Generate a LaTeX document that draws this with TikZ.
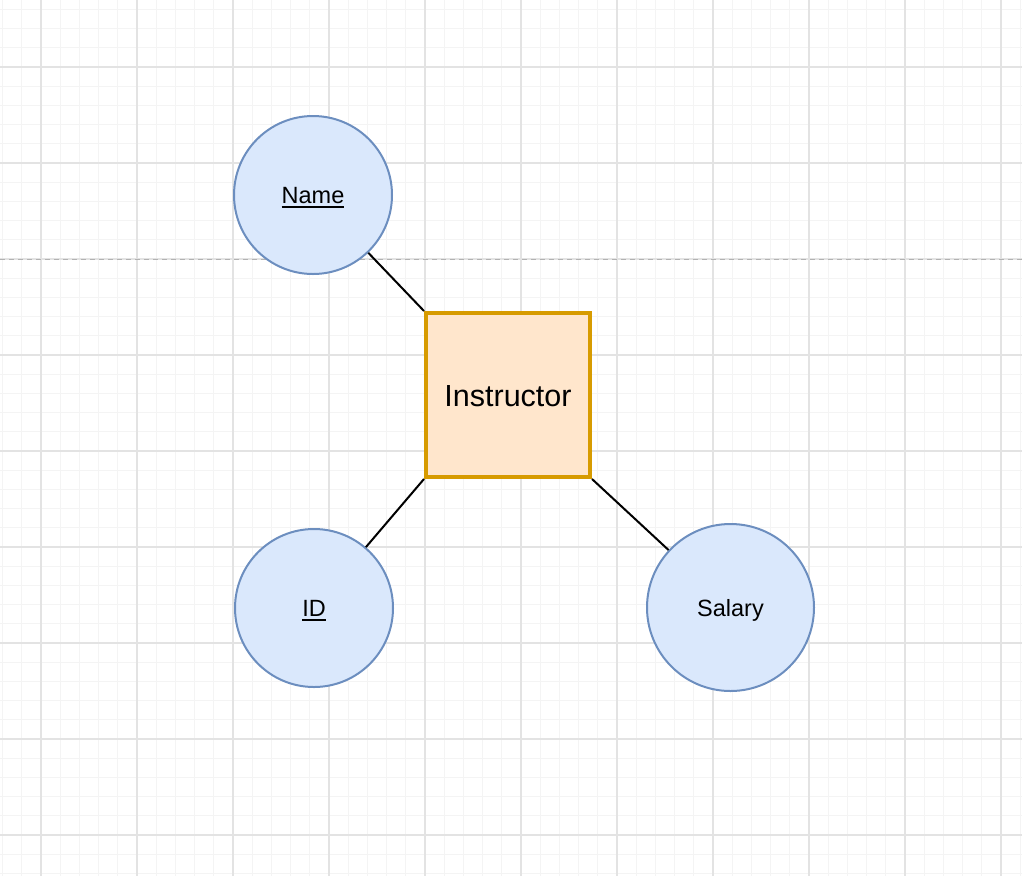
\documentclass[tikz,border=0pt]{standalone}
\usepackage{fontspec}
\setmainfont{Liberation Sans}
\newcommand{\keyattr}[1]{\setbox0\hbox{#1}\rlap{\rule[-4pt]{\wd0}{1.5pt}}\box0}
\definecolor{attrfill}{HTML}{DAE8FC}
\definecolor{attrline}{HTML}{6C8EBF}
\definecolor{entfill}{HTML}{FFE6CC}
\definecolor{entline}{HTML}{D79B00}
\definecolor{gridminor}{HTML}{F4F4F4}
\definecolor{gridmajor}{HTML}{E3E3E3}
\begin{document}
\begin{tikzpicture}[x=1pt, y=-1pt,
    attr/.style={circle, draw=attrline, fill=attrfill, line width=2pt,
        minimum size=158pt, inner sep=0pt, font=\fontsize{23.5}{23.5}\selectfont,
        text height=17pt, text depth=0pt},
    entity/.style={rectangle, draw=entline, fill=entfill, line width=4pt,
        minimum size=164pt, inner sep=0pt, font=\fontsize{30.5}{30.5}\selectfont,
        text height=22pt, text depth=0pt},
    link/.style={draw=black, line width=2pt}]
    \useasboundingbox (0, 0) rectangle (1022, 876);
    \clip (0, 0) rectangle (1022, 876);

    % grid
    \foreach \i in {-3,...,52}
        \draw[gridminor, line width=1pt] ({41+19.2*\i}, 0) -- ({41+19.2*\i}, 876);
    \foreach \j in {-4,...,43}
        \draw[gridminor, line width=1pt] (0, {67+19.2*\j}) -- (1022, {67+19.2*\j});
    \foreach \i in {0,...,10}
        \draw[gridmajor, line width=1.5pt] ({41+96*\i}, 0) -- ({41+96*\i}, 876);
    \foreach \j in {0,...,8}
        \draw[gridmajor, line width=1.5pt] (0, {67+96*\j}) -- (1022, {67+96*\j});
    \draw[gray!60, line width=1pt, dash pattern=on 5pt off 4pt] (0, 259) -- (1022, 259);

    \node[entity] (instructor) at (508, 395) {Instructor};

    \node[attr] (name) at (313, 195) {\keyattr{Name}};
    \node[attr] (id) at (314, 608) {\keyattr{ID}};
    \node[attr, minimum size=167pt] (salary) at (730.5, 607.5) {Salary};

    \draw[link] (name) -- (instructor.north west);
    \draw[link] (id) -- (instructor.south west);
    \draw[link] (salary) -- (instructor.south east);

\end{tikzpicture}
\end{document}
